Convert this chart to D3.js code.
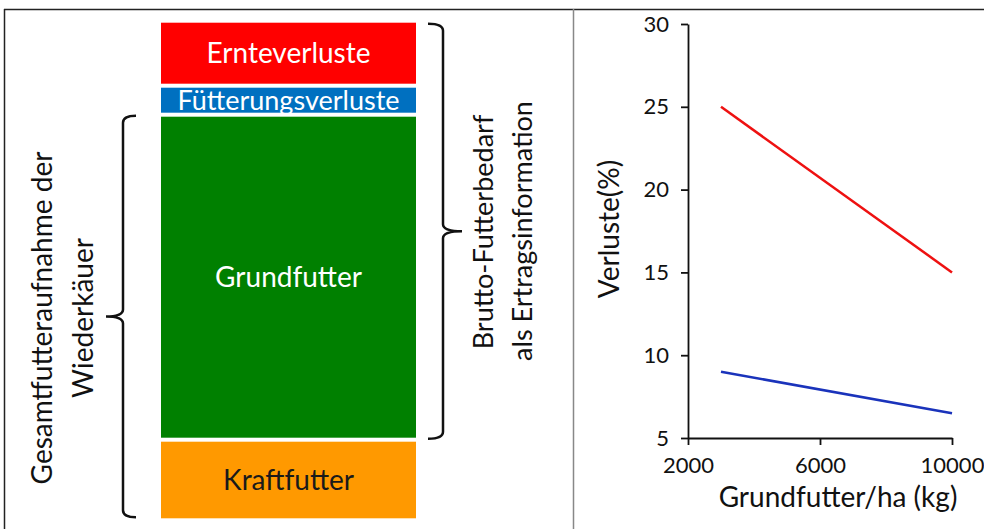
<!DOCTYPE html>
<html>
<head>
<meta charset="utf-8">
<script src="https://cdn.jsdelivr.net/npm/d3@7"></script>
<style>
  body { margin: 0; background: #fff; }
  text { font-family: Lato, "Open Sans", sans-serif; }
</style>
</head>
<body>
<script>
// stacked bar (left panel), share of each block
var blockNames = ['Ernteverluste', 'Fütterungsverluste', 'Grundfutter', 'Kraftfutter']
var blockValues = [65, 29, 325, 80.6]
var blockColors = ['#ff0000', '#0070c0', '#008000', '#ff9900']
var blockText = ['#ffffff', '#ffffff', '#ffffff', '#1a1a1a']

// line chart (right panel)
var xTicks = [2000, 6000, 10000]
var yTicks = [5, 10, 15, 20, 25, 30]
var lineX = [3000, 10000]
var ernteLine = [25, 15]
var fuetterLine = [9, 6.5]

var W = 984, H = 529
var svg = d3.select('body').append('svg').attr('width', W).attr('height', H).attr('id', 'svg0')

// frame
svg.append('line').attr('x1', 4).attr('x2', W).attr('y1', 9.5).attr('y2', 9.5).attr('stroke', '#222').attr('stroke-width', 1.5)
svg.append('line').attr('x1', 4.5).attr('x2', 4.5).attr('y1', 9).attr('y2', H).attr('stroke', '#222').attr('stroke-width', 1.5)
svg.append('line').attr('x1', 573.5).attr('x2', 573.5).attr('y1', 9).attr('y2', H).attr('stroke', '#888').attr('stroke-width', 1.5)

// ---- stacked bar ----
var total = d3.sum(blockValues)
var yBar = d3.scaleLinear().domain([0, total]).range([20.7, 520.3])
var barX0 = 161, barX1 = 416, gap = 2
var stacked = []
var cum = 0
blockValues.forEach((v, i) => {
    stacked.push({name: blockNames[i], y0: cum, y1: cum + v, color: blockColors[i], tc: blockText[i]})
    cum += v
})
var bar = svg.append('g').attr('id', 'bar')
bar.selectAll('rect').data(stacked).enter().append('rect')
    .attr('x', barX0).attr('width', barX1 - barX0)
    .attr('y', d => yBar(d.y0) + gap)
    .attr('height', d => yBar(d.y1) - yBar(d.y0) - 2 * gap)
    .attr('fill', d => d.color)
bar.selectAll('text').data(stacked).enter().append('text')
    .attr('x', (barX0 + barX1) / 2)
    .attr('y', d => (yBar(d.y0) + yBar(d.y1)) / 2)
    .attr('dy', '0.35em').attr('text-anchor', 'middle')
    .attr('font-size', d => d.name == 'Fütterungsverluste' ? '27px' : '28px')
    .attr('fill', d => d.tc)
    .text(d => d.name)

// curly brace: arms at xArm, spine at xV, tip at xTip
function brace(xArm, xV, xTip, yTop, yBot, r) {
    var ym = (yTop + yBot) / 2
    var p = d3.path()
    p.moveTo(xArm, yTop)
    p.quadraticCurveTo(xV, yTop, xV, yTop + r)
    p.lineTo(xV, ym - r)
    p.quadraticCurveTo(xV, ym, xTip, ym)
    p.quadraticCurveTo(xV, ym, xV, ym + r)
    p.lineTo(xV, yBot - r)
    p.quadraticCurveTo(xV, yBot, xArm, yBot)
    return p.toString()
}
// right brace: Ernteverluste + Fütterungsverluste + Grundfutter
svg.append('path')
    .attr('d', brace(428, 443, 462, yBar(stacked[0].y0) + 3, yBar(stacked[2].y1) - 1, 7))
    .attr('fill', 'none').attr('stroke', '#111').attr('stroke-width', 2.5)
// left brace: Grundfutter + Kraftfutter
svg.append('path')
    .attr('d', brace(136, 123, 106, yBar(stacked[2].y0) + 1, yBar(stacked[3].y1) - 3, 7))
    .attr('fill', 'none').attr('stroke', '#111').attr('stroke-width', 2.5)

function vtext(x, y, str, size) {
    svg.append('text').attr('transform', 'translate(' + x + ',' + y + ') rotate(-90)')
        .attr('text-anchor', 'middle').attr('dy', '0.35em')
        .attr('font-size', size).attr('fill', '#111').text(str)
}
vtext(42, 318, 'Gesamtfutteraufnahme der', '28px')
vtext(83, 318, 'Wiederkäuer', '28px')
vtext(484, 232, 'Brutto-Futterbedarf', '27px')
vtext(523, 231, 'als Ertragsinformation', '27px')

// ---- line chart ----
var x = d3.scaleLinear().domain([2000, 10000]).range([688, 952])
var y = d3.scaleLinear().domain([5, 30]).range([438, 24])
var chart = svg.append('g').attr('id', 'chart')

chart.append('g').attr('transform', 'translate(688,0)')
    .call(d3.axisLeft(y).tickValues(yTicks).tickSize(7).tickSizeOuter(0).tickPadding(12))
chart.append('g').attr('transform', 'translate(0,438)')
    .call(d3.axisBottom(x).tickValues(xTicks).tickSize(7).tickSizeOuter(0).tickPadding(12).tickFormat(d3.format('d')))
chart.selectAll('.domain, .tick line').attr('stroke', '#111').attr('stroke-width', 1.8)
chart.selectAll('.tick text').attr('font-size', '22px').attr('fill', '#111')
    .style('font-family', 'Lato, "Open Sans", sans-serif')

var line = d3.line().x(d => x(d[0])).y(d => y(d[1]))
chart.append('path').attr('d', line(lineX.map((v, i) => [v, ernteLine[i]])))
    .attr('fill', 'none').attr('stroke', '#ee1111').attr('stroke-width', 2.5)
chart.append('path').attr('d', line(lineX.map((v, i) => [v, fuetterLine[i]])))
    .attr('fill', 'none').attr('stroke', '#1a33bb').attr('stroke-width', 2.5)

chart.append('text').attr('transform', 'translate(609,229) rotate(-90)')
    .attr('text-anchor', 'middle').attr('dy', '0.35em').attr('font-size', '28px').attr('fill', '#111')
    .text('Verluste(%)')
chart.append('text').attr('x', 838).attr('y', 497)
    .attr('text-anchor', 'middle').attr('dy', '0.35em').attr('font-size', '28px').attr('fill', '#111')
    .text('Grundfutter/ha (kg)')
</script>
</body>
</html>
